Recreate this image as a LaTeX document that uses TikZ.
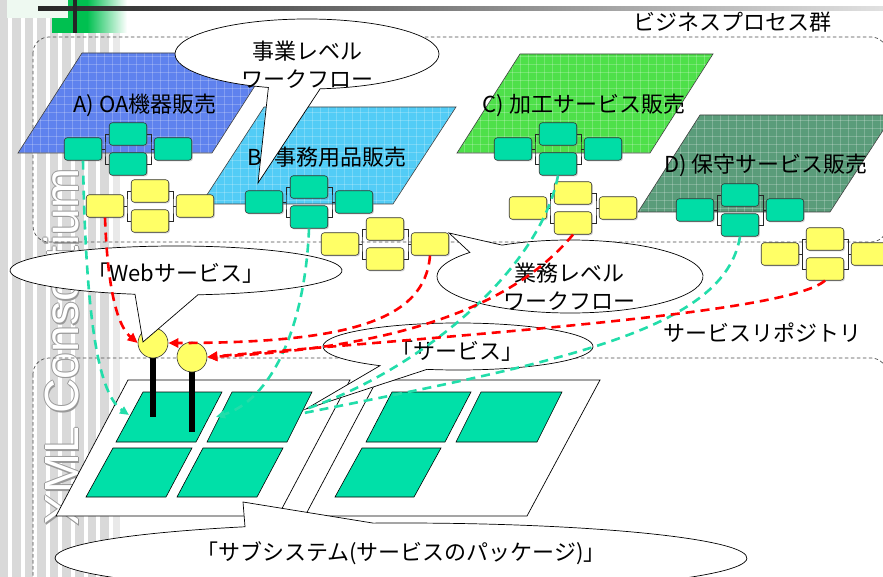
\documentclass[tikz,border=0pt]{standalone}
\usepackage{fontspec}
\setmainfont{Noto Sans CJK JP}
\newfontfamily\wmfont{Liberation Sans}
\usetikzlibrary{arrows.meta,shadows}

\definecolor{gboxc}{HTML}{00DDA6}
\definecolor{yboxc}{HTML}{FFFF66}
\definecolor{tilec}{HTML}{00E0A8}
\definecolor{blueA}{HTML}{5F82EE}
\definecolor{cyanB}{HTML}{52CCF6}
\definecolor{greenC}{HTML}{4EE04A}
\definecolor{greenD}{HTML}{5A9C7A}
\definecolor{tealdash}{HTML}{22DDAA}
\definecolor{decogreen}{HTML}{00C050}
\definecolor{decowhite}{HTML}{EEF9F1}
\definecolor{stripegray}{HTML}{D9D9D9}
\definecolor{stripelight}{HTML}{E9E9E9}

\tikzset{
  boxbase/.style={rounded corners=3pt, minimum width=37.5pt, minimum height=22.5pt,
    inner sep=0pt, draw=black!80, line width=0.6pt,
    drop shadow={shadow xshift=1.2pt,shadow yshift=-1.2pt,opacity=0.35}},
  gwf/.style={boxbase, fill=gboxc},
  ywf/.style={boxbase, fill=yboxc},
  wire/.style={draw=black!85, line width=0.6pt},
  lab/.style={font=\fontsize{22}{28}\selectfont, inner sep=0pt, align=center, text=black},
  grp/.style={draw=black!70, line width=0.7pt, dash pattern=on 3.5pt off 2.5pt, rounded corners=16pt},
  ssbox/.style={draw=black, line width=0.7pt, fill=white},
  tilebox/.style={draw=black, line width=0.6pt, fill=tilec},
  wsc/.style={circle, draw=black!80, line width=0.6pt, fill=yboxc, minimum size=30pt, inner sep=0pt},
  stick/.style={draw=black, line width=6pt},
  callout/.style={draw=black, line width=0.7pt, fill=white},
  reddash/.style={draw=red, line width=2.6pt, dash pattern=on 9pt off 6pt},
  tealline/.style={draw=tealdash, line width=2.6pt, dash pattern=on 9pt off 6pt},
  wm/.style={rotate=90, anchor=base west, font=\wmfont\fontsize{48}{48}\selectfont, inner sep=0pt}
}

\newcommand{\wfcluster}[4]{%
  \node[#4] (#1L) at (#2-45,#3) {};
  \node[#4] (#1T) at (#2,#3-15) {};
  \node[#4] (#1B) at (#2,#3+15) {};
  \node[#4] (#1R) at (#2+45,#3) {};
  \coordinate (#1jl) at (#2-23,#3);
  \coordinate (#1jr) at (#2+23,#3);
  \draw[wire] (#1L.east) -- (#1jl);
  \draw[wire] (#1T.west) -| (#1jl) |- (#1B.west);
  \draw[wire] (#1R.west) -- (#1jr);
  \draw[wire] (#1T.east) -| (#1jr) |- (#1B.east);
}

\newcommand{\procpar}[5]{%
  \begin{scope}
    \clip #2 -- #3 -- #4 -- #5 -- cycle;
    \fill[#1] #2 -- #3 -- #4 -- #5 -- cycle;
    \foreach \gx in {0,8,...,900} \draw[white, opacity=0.22, line width=0.6pt] (\gx,0) -- (\gx,300);
    \foreach \gy in {0,8,...,296} \draw[white, opacity=0.22, line width=0.6pt] (0,\gy) -- (900,\gy);
  \end{scope}
  \draw[black!75, line width=0.6pt] #2 -- #3 -- #4 -- #5 -- cycle;
}

\newcommand{\tilepar}[4]{\draw[tilebox] #1 -- #2 -- #3 -- #4 -- cycle;}

\begin{document}
\begin{tikzpicture}[x=1pt,y=-1pt]
\useasboundingbox (0,0) rectangle (883,577);
\clip (0,0) rectangle (883,577);
\fill[white] (0,0) rectangle (883,577);

% left stripes
\fill[stripegray] (0,0) rectangle (110,577);
\fill[stripelight] (110,0) rectangle (120,577);
\foreach \i in {0,...,8} \fill[white] ({8+12.6*\i},0) rectangle ++(4,577);

% watermark (white letters with grey outline)
\node[wm, text=black!40] (wmo1) at (79,526) {XML Consortium};
\node[wm, text=black!40] (wmo2) at (77,526) {XML Consortium};
\node[wm, text=black!40] (wmo3) at (78,527) {XML Consortium};
\node[wm, text=black!40] (wmo4) at (78,525) {XML Consortium};
\node[wm, text=black!40] (wmo5) at (79.5,527.5) {XML Consortium};
\node[wm, text=white] (wmtext) at (78,526) {XML Consortium};

% top decoration
\fill[decogreen] (52,0) rectangle (87,33);
\shade[left color=decogreen, right color=white] (87,0) rectangle (127,33);
\fill[decowhite] (7,0) rectangle (68,18);
\shade[left color=black!85, right color=black!12] (38,7) rectangle (883,10.5);
\fill[black!85] (73,0) rectangle (77,33);

% groups
\draw[grp] (33,37) rectangle (887,242);
\draw[grp] (33,358) rectangle (887,620);
\node[lab] (grp1lab) at (732,22) {ビジネスプロセス群};
\node[lab] (grp2lab) at (762,333) {サービスリポジトリ};

% business processes
\procpar{blueA}{(18,153)}{(212,153)}{(276,53)}{(82,53)}
\procpar{cyanB}{(201,204)}{(393,204)}{(456,107)}{(264,107)}
\procpar{greenC}{(457,153)}{(650,153)}{(713,54)}{(520,54)}
\procpar{greenD}{(638,212)}{(830,212)}{(893,115)}{(700,115)}
\node[lab] (labA) at (145,105) {A) OA機器販売};
\node[lab] (labB) at (327,158) {B) 事務用品販売};
\node[lab] (labC) at (584,105) {C) 加工サービス販売};
\node[lab] (labD) at (766,165) {D) 保守サービス販売};

% workflow clusters
\wfcluster{a}{128}{149}{gwf}
\wfcluster{ya}{150}{206}{ywf}
\wfcluster{b}{309}{202}{gwf}
\wfcluster{yb}{385}{244}{ywf}
\wfcluster{c}{558}{149}{gwf}
\wfcluster{yc}{573}{208}{ywf}
\wfcluster{d}{740}{210}{gwf}
\wfcluster{yd}{825}{254}{ywf}

% subsystems
\draw[ssbox] (56,516) -- (278,516) -- (350,380) -- (128,380) -- cycle;
\draw[ssbox] (305,516) -- (527,516) -- (600,380) -- (377,380) -- cycle;
\tilepar{(116,442)}{(196,442)}{(222,392)}{(143,392)}
\tilepar{(207,442)}{(287,442)}{(312,392)}{(232,392)}
\tilepar{(86,497)}{(166,497)}{(192,448)}{(113,448)}
\tilepar{(177,497)}{(257,497)}{(283,448)}{(203,448)}
\tilepar{(366,442)}{(445,442)}{(471,392)}{(392,392)}
\tilepar{(456,442)}{(537,442)}{(562,392)}{(481,392)}
\tilepar{(335,497)}{(414,497)}{(441,448)}{(362,448)}

% web services
\coordinate (ws1c) at (153,343);
\coordinate (ws2c) at (192,357);
\coordinate (st1) at (153,417);
\coordinate (st2) at (192,432);
\draw[stick] (ws1c) -- (st1);
\draw[stick] (ws2c) -- (st2);
\node[wsc] (ws1) at (ws1c) {};
\node[wsc] (ws2) at (ws2c) {};

% callouts
\path[callout] (258,183) -- ({307+132*cos(84.3)},{54+35*sin(84.3)})
  arc[start angle=84.3, end angle=-253, x radius=132, y radius=35] -- cycle;
\path[callout] (143,342) -- ({176+166*cos(82.4)},{270.5+24.5*sin(82.4)})
  arc[start angle=82.4, end angle=-255.7, x radius=166, y radius=24.5] -- cycle;
\path[callout] (449,233) -- ({570+133*cos(-120.7)},{276.5+36.5*sin(-120.7)})
  arc[start angle=-120.7, end angle=221.2, x radius=133, y radius=36.5] -- cycle;
\path[callout] (306,409) -- ({458+135*cos(125.3)},{346.5+23.5*sin(125.3)})
  arc[start angle=125.3, end angle=463.3, x radius=135, y radius=23.5] -- cycle;
\path[callout] (243,502) -- ({401+346*cos(-94.6)},{558+35*sin(-94.6)})
  arc[start angle=-94.6, end angle=243.2, x radius=346, y radius=35] -- cycle;

\node[lab] (t1) at (307,65) {事業レベル\\ワークフロー};
\node[lab] (t2) at (176,273) {「Webサービス」};
\node[lab] (t3) at (569,287) {業務レベル\\ワークフロー};
\node[lab] (t4) at (457,351) {「サービス」};
\node[lab] (t5) at (401,553) {「サブシステム(サービスのパッケージ)」};

% dashed connectors
\coordinate (tin1) at (129,415);
\coordinate (tin2) at (216,417);
\coordinate (tout1) at (306,409);
\coordinate (tout2) at (304,413);
\draw[tealline, -{Triangle[length=9pt,width=8pt]}] (aL.south) .. controls (86,330) and (100,395) .. (tin1);
\draw[tealline, -{Triangle[length=9pt,width=8pt]}] (bB.south) .. controls (305,330) and (270,400) .. (tin2);
\draw[tealline] (cB.south) .. controls (540,270) and (420,370) .. (tout1);
\draw[tealline] (dB.south) .. controls (725,330) and (560,362) .. (tout2);

\draw[reddash, -{Triangle[length=10pt,width=9pt]}] (yaL.south) .. controls (108,300) and (120,328) .. (ws1.west);
\draw[reddash, -{Triangle[length=10pt,width=9pt]}] (ybR.south) .. controls (425,320) and (350,343) .. (ws1.east);
\draw[reddash, -{Triangle[length=10pt,width=9pt]}] (ycB.south) .. controls (515,305) and (400,348) .. (ws2.east);
\draw[reddash, -{Triangle[length=10pt,width=9pt]}] (ydB.south) .. controls (790,312) and (500,332) .. (ws2.east);
\end{tikzpicture}
\end{document}
